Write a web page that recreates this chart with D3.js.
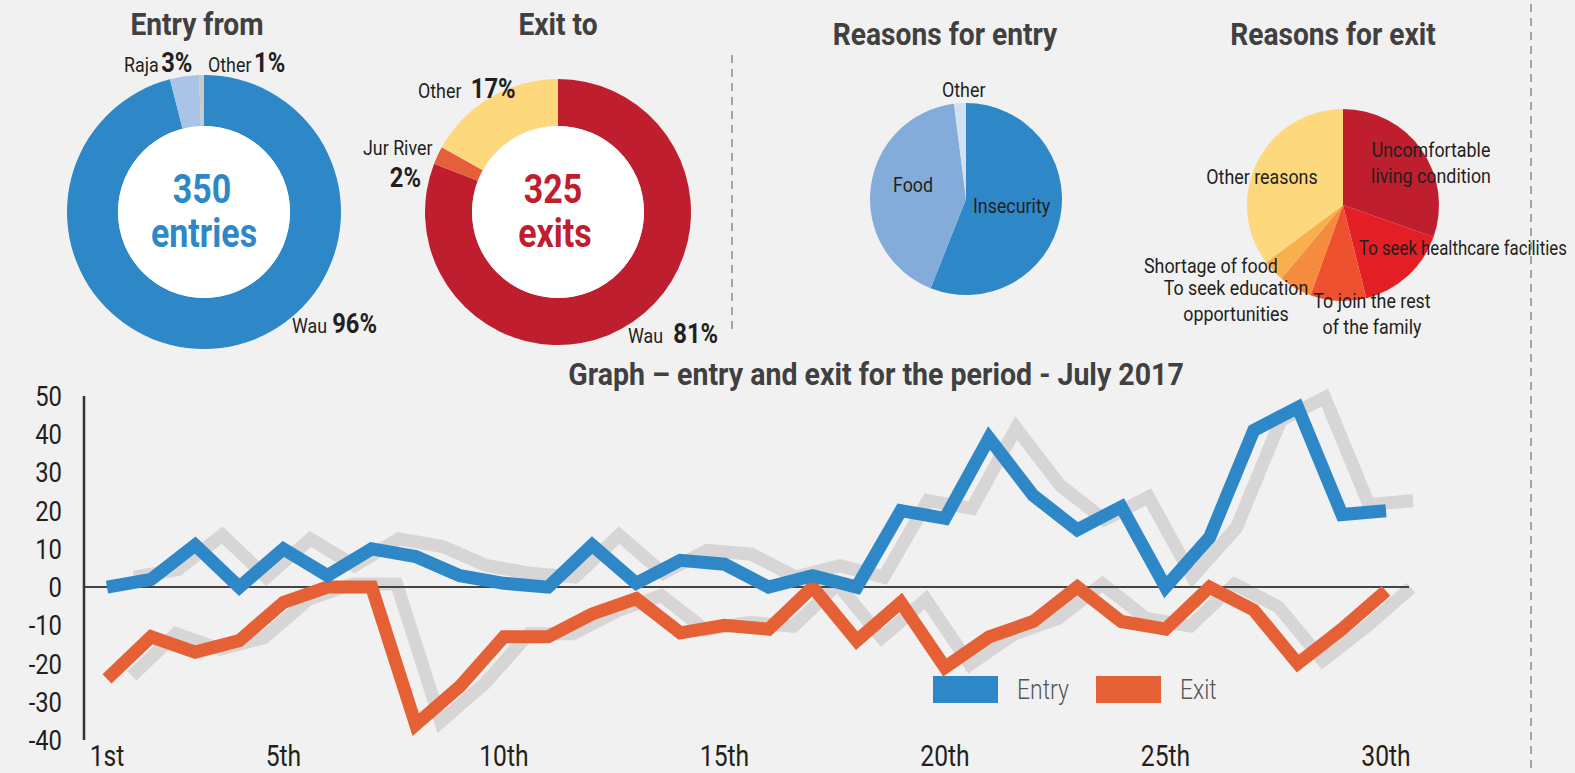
<!DOCTYPE html>
<html>
<head>
  <meta charset="utf-8">
  <title>Entry and exit - July 2017</title>
  <script src="https://cdn.jsdelivr.net/npm/d3@7"></script>
  <style>
    body { margin: 0; background: #f1f1f1; }
    svg { display: block; }
    text { font-family: Roboto, "Liberation Sans", sans-serif; fill: #231f20; }
    .title { font-weight: bold; fill: #404041; }
    .bold { font-weight: bold; }
  </style>
</head>
<body>
<svg id="chart" width="1575" height="773"></svg>
<script>
  // donut data (counts)
  var entryFromLabels = ["Wau", "Raja", "Other"];
  var entryFromValues = [336, 12, 2];
  var exitToLabels = ["Wau", "Jur River", "Other"];
  var exitToValues = [263, 7, 55];

  // pie data (percent)
  var entryReasonLabels = ["Insecurity", "Food", "Other"];
  var entryReasonValues = [56, 42, 2];
  var exitReasonLabels = ["Uncomfortable living condition", "To seek healthcare facilities",
    "To join the rest of the family", "To seek education opportunities", "Shortage of food", "Other reasons"];
  var exitReasonValues = [30.4, 15.7, 9.4, 5.6, 3.7, 35.2];

  // line chart data
  var days = [1, 2, 3, 4, 5, 6, 7, 8, 9, 10, 11, 12, 13, 14, 15, 16, 17, 18, 19, 20, 21, 22, 23, 24, 25, 26, 27, 28, 29, 30];
  var entryValues = [0, 2, 11, 0, 10, 3, 10, 8, 3, 1, 0, 11, 1, 7, 6, 0, 3, 0, 20, 18, 39, 24, 15, 21, 0, 13, 41, 47, 19, 20];
  var exitValues = [-24, -13, -17, -14, -4, 0, 0, -36, -26, -13, -13, -7, -3, -12, -10, -11, 0, -14, -4, -21, -13, -9, 0, -9, -11, 0, -6, -20, -11, -1];
  var xTickDays = [1, 5, 10, 15, 20, 25, 30];
  var xTickLabels = ["1st", "5th", "10th", "15th", "20th", "25th", "30th"];
  var yTicks = [50, 40, 30, 20, 10, 0, -10, -20, -30, -40];

  var blue = "#2e88c8", orange = "#e56135", shadow = "#d7d5d5";
  var SX = 0.85; // horizontal squeeze to get a condensed look

  var svg = d3.select("#chart");

  // text helper: condensed text placed at x,y
  function txt(parent, x, y, str, size, cls, anchor, sx) {
    var t = parent.append("text")
      .attr("transform", "translate(" + x + "," + y + ") scale(" + (sx || SX) + ",1)")
      .attr("text-anchor", anchor || "start")
      .style("font-size", size + "px");
    if (cls) t.attr("class", cls);
    if (str !== null) t.text(str);
    return t;
  }

  // dashed separators
  svg.append("line").attr("x1", 732).attr("x2", 732).attr("y1", 55).attr("y2", 330)
    .attr("stroke", "#8a8a8a").attr("stroke-width", 1.5).attr("stroke-dasharray", "8,6");
  svg.append("line").attr("x1", 1531).attr("x2", 1531).attr("y1", 4).attr("y2", 773)
    .attr("stroke", "#8a8a8a").attr("stroke-width", 1.5).attr("stroke-dasharray", "8,6");

  var pie = d3.pie().sort(null).value(d => d);

  function donut(cx, cy, rOuter, rInner, values, colors) {
    var arc = d3.arc().innerRadius(rInner).outerRadius(rOuter);
    var g = svg.append("g").attr("transform", "translate(" + cx + "," + cy + ")");
    g.selectAll("path").data(pie(values)).enter().append("path")
      .attr("d", arc).attr("fill", (d, i) => colors[i]);
    if (rInner > 0) g.append("circle").attr("r", rInner).attr("fill", "#fff");
    return g;
  }

  function pct(v, values) {
    return Math.round(v / d3.sum(values) * 100) + "%";
  }

  function labelPct(x, y, name, v, values, gap) {
    var t = txt(svg, x, y, null, 21);
    t.append("tspan").text(name);
    t.append("tspan").attr("class", "bold").attr("dx", gap).style("font-size", "28px").text(pct(v, values));
  }

  // Entry from
  txt(svg, 197, 35, "Entry from", 32, "title", "middle", 0.88);
  donut(204, 212, 137, 86, entryFromValues, [blue, "#a9c4e6", "#c9c9c9"]);
  txt(svg, 202, 203, d3.sum(entryFromValues), 40, "bold", "middle").style("fill", blue);
  txt(svg, 204, 247, "entries", 40, "bold", "middle").style("fill", blue);
  labelPct(124, 72, entryFromLabels[1], entryFromValues[1], entryFromValues, 3);
  labelPct(208, 72, entryFromLabels[2], entryFromValues[2], entryFromValues, 3);
  labelPct(292, 333, entryFromLabels[0], entryFromValues[0], entryFromValues, 6);

  // Exit to
  txt(svg, 558, 35, "Exit to", 32, "title", "middle", 0.88);
  donut(558, 212, 133, 86, exitToValues, ["#be1e2d", "#e5603a", "#fdd87c"]);
  txt(svg, 553, 203, d3.sum(exitToValues), 40, "bold", "middle").style("fill", "#be1e2d");
  txt(svg, 555, 247, "exits", 40, "bold", "middle").style("fill", "#be1e2d");
  labelPct(418, 98, exitToLabels[2], exitToValues[2], exitToValues, 11);
  labelPct(628, 343, exitToLabels[0], exitToValues[0], exitToValues, 12);
  txt(svg, 363, 155, exitToLabels[1], 21);
  txt(svg, 421, 187, pct(exitToValues[1], exitToValues), 28, "bold", "end");

  // Reasons for entry
  txt(svg, 945, 45, "Reasons for entry", 32, "title", "middle", 0.88);
  donut(966, 199, 96, 0, entryReasonValues, [blue, "#84acdb", "#d3e0f2"]);
  var erPos = [[973, 213], [893, 192], [942, 97]];
  entryReasonLabels.forEach((l, i) => txt(svg, erPos[i][0], erPos[i][1], l, 21));

  // Reasons for exit
  txt(svg, 1333, 45, "Reasons for exit", 32, "title", "middle", 0.88);
  donut(1343, 205, 96, 0, exitReasonValues,
    ["#be1e2d", "#e31e24", "#ef5030", "#f58b3e", "#f9b04c", "#fdd87c"]);
  var xrLines = [["Uncomfortable", "living condition"], ["To seek healthcare facilities"],
    ["To join the rest", "of the family"], ["To seek education", "opportunities"], ["Shortage of food"], ["Other reasons"]];
  var xrPos = [[1431, 157], [1359, 255], [1372, 308], [1236, 295], [1144, 273], [1262, 184]];
  var xrAnchor = ["middle", "start", "middle", "middle", "start", "middle"];
  xrLines.forEach((lines, i) => {
    var t = txt(svg, xrPos[i][0], xrPos[i][1], null, 21, null, xrAnchor[i], i === 1 ? 0.8 : SX);
    lines.forEach((s, j) => {
      t.append("tspan").attr("x", 0).attr("dy", j ? 26 : 0).text(s);
    });
  });

  // Line chart
  txt(svg, 876, 385, "Graph \u2013 entry and exit for the period - July 2017", 31, "title", "middle", 0.92);

  var x = d3.scaleLinear().domain([1, 30]).range([107, 1386]);
  var y = d3.scaleLinear().domain([-40, 50]).range([740, 396]);

  var line = d3.line().x((d, i) => x(days[i])).y(d => y(d));

  var lc = svg.append("g");

  lc.append("path").datum(entryValues).attr("d", line).attr("transform", "translate(27,-10)")
    .attr("fill", "none").attr("stroke", shadow).attr("stroke-width", 13);
  lc.append("path").datum(exitValues).attr("d", line).attr("transform", "translate(25,-3)")
    .attr("fill", "none").attr("stroke", shadow).attr("stroke-width", 13);

  // zero line and y axis
  lc.append("line").attr("x1", 84).attr("x2", 1409).attr("y1", y(0)).attr("y2", y(0))
    .attr("stroke", "#444").attr("stroke-width", 2);
  lc.append("line").attr("x1", 84).attr("x2", 84).attr("y1", y(50)).attr("y2", y(-40))
    .attr("stroke", "#333").attr("stroke-width", 2.5);

  lc.append("path").datum(exitValues).attr("d", line)
    .attr("fill", "none").attr("stroke", orange).attr("stroke-width", 13);
  lc.append("path").datum(entryValues).attr("d", line)
    .attr("fill", "none").attr("stroke", blue).attr("stroke-width", 13);

  yTicks.forEach(d => txt(lc, 62, y(d) + 10, d, 28, null, "end"));
  xTickDays.forEach((d, i) => txt(lc, x(d), 766, xTickLabels[i], 29, null, "middle"));

  // legend
  var legend = [["Entry", blue, 933], ["Exit", orange, 1096]];
  legend.forEach(l => {
    lc.append("rect").attr("x", l[2]).attr("y", 676).attr("width", 65).attr("height", 27).attr("fill", l[1]);
    txt(lc, l[2] + 84, 699, l[0], 27).style("fill", "#555").style("font-weight", 300);
  });
</script>
</body>
</html>
